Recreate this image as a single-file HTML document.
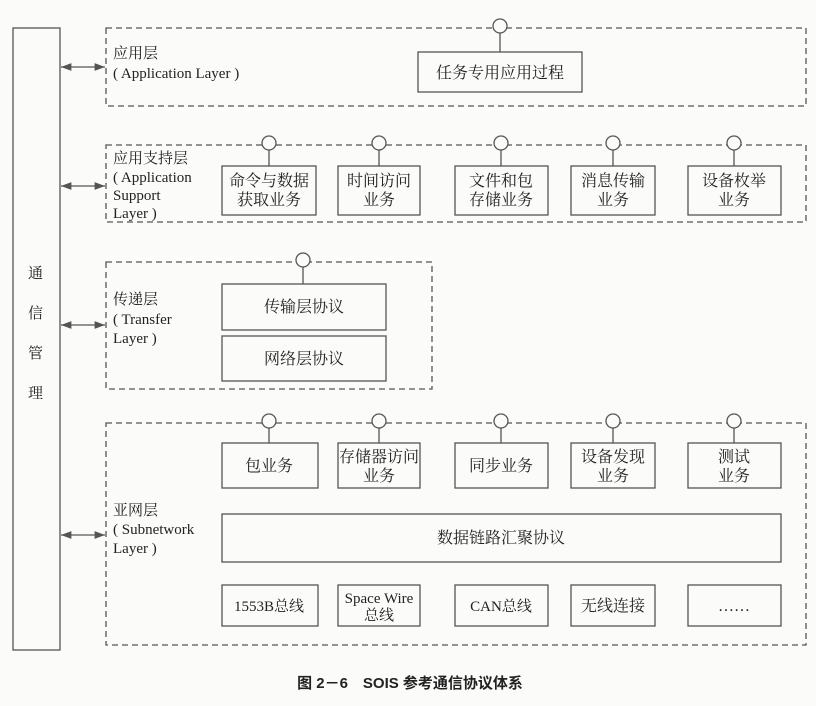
<!DOCTYPE html>
<html><head><meta charset="utf-8"><style>
html,body{margin:0;padding:0;background:#fbfbf9;}
svg text{font-family:"Liberation Serif","Noto Serif CJK SC",serif;fill:#222;}
svg text.cap{font-family:"Liberation Sans","Noto Sans CJK SC",sans-serif;font-weight:bold;}
</style></head><body>
<svg width="816" height="701" xmlns="http://www.w3.org/2000/svg">
<defs><marker id="a" markerWidth="8" markerHeight="6" refX="8" refY="3" orient="auto-start-reverse"><path d="M0,0 L8,3 L0,6 z" fill="#555"/></marker></defs>
<g stroke="#555" fill="none" stroke-width="1.3">
<rect x="13" y="28" width="47" height="622" fill="#fbfbf9"/>
<g stroke-dasharray="6,4">
<rect x="106" y="28" width="700" height="78"/>
<rect x="106" y="145" width="700" height="77"/>
<rect x="106" y="262" width="326" height="127"/>
<rect x="106" y="423" width="700" height="222"/>
</g>
<g marker-start="url(#a)" marker-end="url(#a)">
<line x1="61" y1="67" x2="105" y2="67"/><line x1="61" y1="186" x2="105" y2="186"/>
<line x1="61" y1="325" x2="105" y2="325"/><line x1="61" y1="535" x2="105" y2="535"/>
</g>
<rect x="418" y="52" width="164" height="40"/>
<line x1="500" y1="33" x2="500" y2="52"/>
<g>
<rect x="222" y="166" width="94" height="49"/><rect x="338" y="166" width="82" height="49"/>
<rect x="455" y="166" width="93" height="49"/><rect x="571" y="166" width="84" height="49"/>
<rect x="688" y="166" width="93" height="49"/>
<line x1="269" y1="150" x2="269" y2="166"/><line x1="379" y1="150" x2="379" y2="166"/>
<line x1="501" y1="150" x2="501" y2="166"/><line x1="613" y1="150" x2="613" y2="166"/>
<line x1="734" y1="150" x2="734" y2="166"/>
</g>
<rect x="222" y="284" width="164" height="46"/><rect x="222" y="336" width="164" height="45"/>
<line x1="303" y1="267" x2="303" y2="284"/>
<rect x="222" y="443" width="96" height="45"/><rect x="338" y="443" width="82" height="45"/>
<rect x="455" y="443" width="93" height="45"/><rect x="571" y="443" width="84" height="45"/>
<rect x="688" y="443" width="93" height="45"/>
<line x1="269" y1="428" x2="269" y2="443"/><line x1="379" y1="428" x2="379" y2="443"/>
<line x1="501" y1="428" x2="501" y2="443"/><line x1="613" y1="428" x2="613" y2="443"/>
<line x1="734" y1="428" x2="734" y2="443"/>
<rect x="222" y="514" width="559" height="48"/>
<rect x="222" y="585" width="96" height="41"/><rect x="338" y="585" width="82" height="41"/>
<rect x="455" y="585" width="93" height="41"/><rect x="571" y="585" width="84" height="41"/>
<rect x="688" y="585" width="93" height="41"/>
<g fill="#fbfbf9">
<circle cx="500" cy="26" r="7"/>
<circle cx="269" cy="143" r="7"/><circle cx="379" cy="143" r="7"/><circle cx="501" cy="143" r="7"/><circle cx="613" cy="143" r="7"/><circle cx="734" cy="143" r="7"/>
<circle cx="303" cy="260" r="7"/>
<circle cx="269" cy="421" r="7"/><circle cx="379" cy="421" r="7"/><circle cx="501" cy="421" r="7"/><circle cx="613" cy="421" r="7"/><circle cx="734" cy="421" r="7"/>
</g>
</g>
<g font-size="15">
<text x="28" y="278">通</text><text x="28" y="318">信</text><text x="28" y="358">管</text><text x="28" y="398">理</text>
<text x="113" y="58">应用层</text><text x="113" y="78">( Application Layer )</text>
<text x="113" y="163">应用支持层</text><text x="113" y="182">( Application</text><text x="113" y="200">Support</text><text x="113" y="218">Layer )</text>
<text x="113" y="304">传递层</text><text x="113" y="324">( Transfer</text><text x="113" y="343">Layer )</text>
<text x="113" y="515">亚网层</text><text x="113" y="534">( Subnetwork</text><text x="113" y="553">Layer )</text>
</g>
<g font-size="16" text-anchor="middle">
<text x="500" y="78">任务专用应用过程</text>
<text x="269" y="186">命令与数据</text><text x="269" y="205">获取业务</text>
<text x="379" y="186">时间访问</text><text x="379" y="205">业务</text>
<text x="501" y="186">文件和包</text><text x="501" y="205">存储业务</text>
<text x="613" y="186">消息传输</text><text x="613" y="205">业务</text>
<text x="734" y="186">设备枚举</text><text x="734" y="205">业务</text>
<text x="304" y="312">传输层协议</text><text x="304" y="364">网络层协议</text>
<text x="269" y="471">包业务</text>
<text x="379" y="462">存储器访问</text><text x="379" y="481">业务</text>
<text x="501" y="471">同步业务</text>
<text x="613" y="462">设备发现</text><text x="613" y="481">业务</text>
<text x="734" y="462">测试</text><text x="734" y="481">业务</text>
<text x="501" y="543">数据链路汇聚协议</text>
<text x="269" y="611" font-size="15">1553B总线</text>
<text x="379" y="603" font-size="15">Space Wire</text><text x="379" y="620" font-size="15">总线</text>
<text x="501" y="611" font-size="15">CAN总线</text><text x="613" y="611">无线连接</text><text x="734" y="611">……</text>
<text class="cap" x="410" y="688" font-size="15">图 2－6　SOIS 参考通信协议体系</text>
</g>
</svg>
</body></html>
